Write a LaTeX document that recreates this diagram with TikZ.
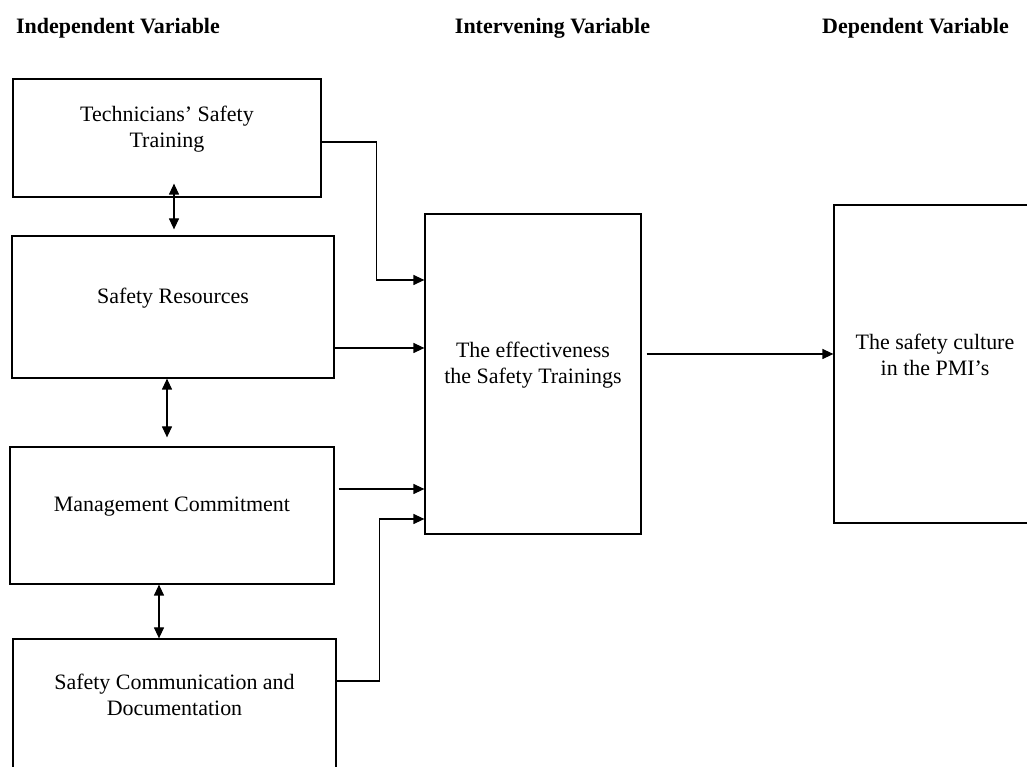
\documentclass[tikz,border=0pt]{standalone}
\usepackage{fontspec}
\setmainfont{Liberation Serif}
\usetikzlibrary{arrows.meta}
\begin{document}
\begin{tikzpicture}
\tikzstyle{box}=[draw,line width=0.7pt,inner sep=0pt];
\tikzstyle{txt}=[align=center,font=\fontsize{12.5}{15}\selectfont];
\tikzstyle{hd}=[anchor=base,font=\fontsize{12.5}{15}\selectfont\bfseries];
\tikzstyle{arr}=[line width=0.7pt,-{Triangle[length=0.22cm,width=0.2cm]}];
\tikzstyle{dbl}=[line width=0.7pt,{Triangle[length=0.22cm,width=0.2cm]}-{Triangle[length=0.22cm,width=0.2cm]}];

\useasboundingbox (0,0) rectangle (20.54,-15.34);

\node[hd] (hd-iv) at (2.36,-0.67) {Independent Variable};
\node[hd] (hd-int) at (11.05,-0.67) {Intervening Variable};
\node[hd] (hd-dv) at (18.31,-0.67) {Dependent Variable};

\node[box,minimum width=6.16cm,minimum height=2.36cm] (tst) at (3.34,-2.76) {};
\node[box,minimum width=6.44cm,minimum height=2.84cm] (sr) at (3.46,-6.14) {};
\node[box,minimum width=6.48cm,minimum height=2.74cm] (mcm) at (3.44,-10.31) {};
\node[box,minimum width=6.46cm,minimum height=2.74cm] (scd) at (3.49,-14.15) {};
\node[box,minimum width=4.32cm,minimum height=6.40cm] (eff) at (10.66,-7.48) {};
\node[box,minimum width=4.04cm,minimum height=6.36cm] (cult) at (18.70,-7.28) {};

\node[txt] (tst-t) at ([yshift=0.18cm]tst.center) {Technicians' Safety\\Training};
\node[txt] (sr-t) at ([yshift=0.18cm]sr.center) {Safety Resources};
\node[txt] (mcm-t) at ([yshift=0.18cm]mcm.center) {Management Commitment};
\node[txt] (scd-t) at ([yshift=0.25cm]scd.center) {Safety Communication and\\Documentation};
\node[txt] (eff-t) at ([yshift=0.18cm]eff.center) {The effectiveness\\the Safety Trainings};
\node[txt] (cult-t) at ([yshift=0.18cm]cult.center) {The safety culture\\in the PMI's};

\path[draw] [arr] ([yshift=-0.08cm]tst.east) -- ++(1.1,0) |- ([yshift=1.88cm]eff.west);
\path[draw] [arr] ([yshift=0.52cm]eff.west -| sr.east) -- ([yshift=0.52cm]eff.west);
\path[draw] [arr,shorten <=0.08cm] ([yshift=-2.3cm]eff.west -| mcm.east) -- ([yshift=-2.3cm]eff.west);
\path[draw] [arr] ([yshift=0.53cm]scd.east) -- ++(0.86,0) |- ([yshift=-2.9cm]eff.west);
\path[draw] [arr,shorten <=0.1cm] ([yshift=0.4cm]eff.east) -- ([yshift=0.4cm]eff.east -| cult.west);

\path[draw] [dbl,shorten <=-0.28cm,shorten >=0.12cm] ([xshift=0.14cm]tst.south) -- ([xshift=0.14cm]tst.south |- sr.north);
\path[draw] [dbl,shorten >=0.18cm] ([xshift=-0.12cm]sr.south) -- ([xshift=-0.12cm]sr.south |- mcm.north);
\path[draw] [dbl] ([xshift=-0.26cm]mcm.south) -- ([xshift=-0.26cm]mcm.south |- scd.north);
\end{tikzpicture}
\end{document}
